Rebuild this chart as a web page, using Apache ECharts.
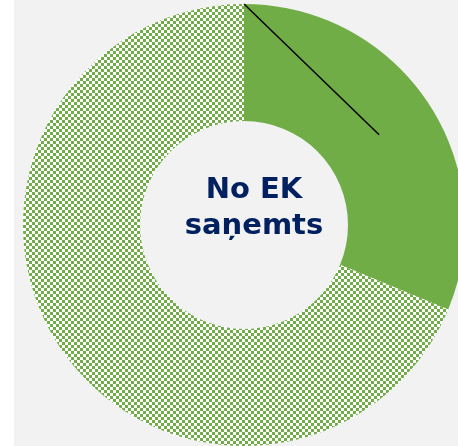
<!DOCTYPE html>
<html>
<head>
<meta charset="utf-8">
<script src="https://cdn.jsdelivr.net/npm/echarts@6/dist/echarts.min.js"></script>
<style>
html,body{margin:0;padding:0;background:#ffffff;}
#chart{position:absolute;left:14px;top:0;width:444px;height:446px;}
</style>
</head>
<body>
<div id="chart"></div>
<script>
var categories = ['Saņemts', 'No EK saņemts'];
var values = [31.25, 68.75];
var centerText = 'No EK\nsaņemts';

var green = '#70ad47';
var cell = 3;
var pat = document.createElement('canvas');
pat.width = cell * 2; pat.height = cell * 2;
var ctx = pat.getContext('2d');
ctx.fillStyle = '#ffffff'; ctx.fillRect(0,0,cell*2,cell*2);
ctx.fillStyle = green;
ctx.fillRect(0,0,cell,cell); ctx.fillRect(cell,cell,cell,cell);

var chart = echarts.init(document.getElementById('chart'), null, {renderer:'canvas', devicePixelRatio: 1});
var cx = 230, cy = 225, rIn = 104, rOut = 221;

var total = values.reduce(function(a,b){return a+b;},0);
var midAng = (values[0]/total) * Math.PI;
var rMid = (rIn + rOut) / 2;

chart.setOption({
  backgroundColor: '#f2f2f2',
  animation: false,
  series: [{
    type: 'pie',
    center: [cx, cy],
    radius: [rIn, rOut],
    startAngle: 90,
    clockwise: true,
    silent: true,
    label: {show: false},
    labelLine: {show: false},
    emphasis: {disabled: true},
    data: categories.map(function(c,i){
      return {name: c, value: values[i],
        itemStyle: {color: i === 0 ? green : {image: pat, repeat: 'repeat'}}};
    })
  }],
  graphic: [
    {type:'line', shape:{x1:cx, y1:cy-rOut, x2:cx+rMid*Math.sin(midAng), y2:cy-rMid*Math.cos(midAng)},
     style:{stroke:'#000000', lineWidth:1.5}, z:10},
    {type:'text', x: cx + 10, y: cy - 17, style:{text:centerText, fill:'#002060', font:'bold 29px "DejaVu Sans"', align:'center', verticalAlign:'middle', lineHeight:36}, z:10}
  ]
});
</script>
</body>
</html>
